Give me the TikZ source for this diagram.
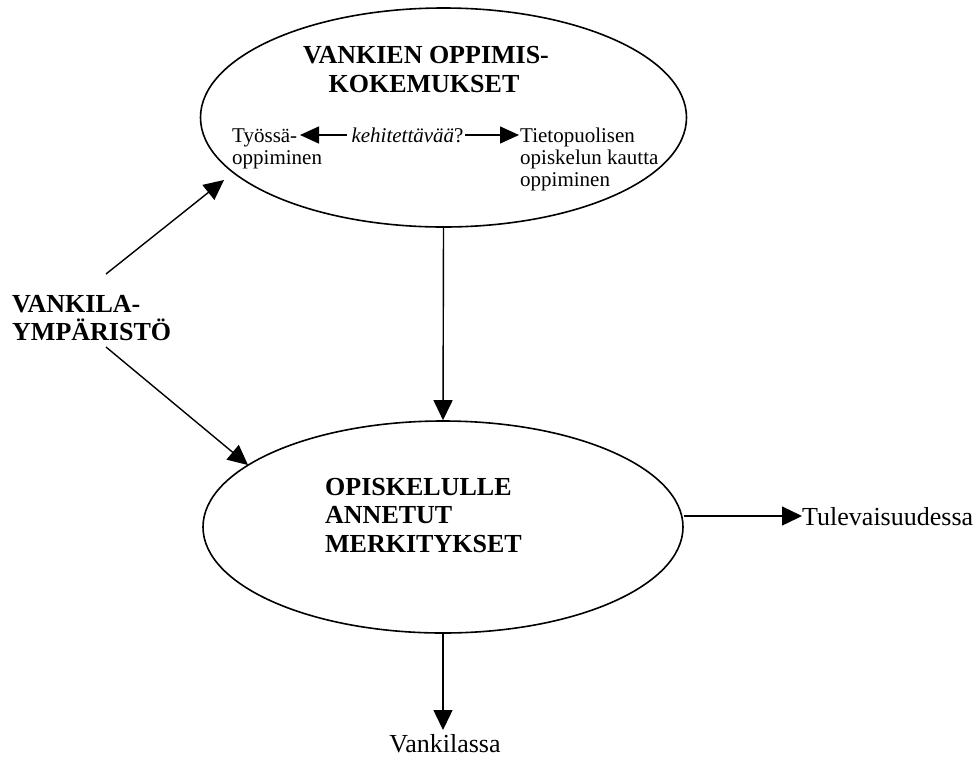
\documentclass[tikz,border=0pt]{standalone}
\usepackage{fontspec}
\setmainfont{Liberation Serif}
\usetikzlibrary{shapes.geometric,arrows.meta}
\begin{document}
\begin{tikzpicture}[x=1pt,y=-1pt,
  oval/.style={draw,ellipse,line width=1.6pt,inner sep=0pt},
  big/.style={font=\fontsize{26}{29}\selectfont\bfseries,inner sep=0pt},
  plain/.style={font=\fontsize{26}{29}\selectfont,inner sep=0pt},
  small/.style={font=\fontsize{21}{23}\selectfont,inner sep=0pt},
  arr/.style={line width=1.4pt,-{Triangle[length=20pt,width=19pt]}},
  sarr/.style={line width=1.4pt,-{Triangle[length=19pt,width=17pt]}}]
\useasboundingbox (0,0) rectangle (977,756);
% ellipses
\node[oval,minimum width=486pt,minimum height=219pt] (topE) at (443.5,117.5) {};
\node[oval,minimum width=480pt,minimum height=212pt] (botE) at (443,527) {};
% top ellipse texts
\node[big,anchor=base] (t1) at (426,63) {VANKIEN OPPIMIS-};
\node[big,anchor=base] (t2) at (424,92) {KOKEMUKSET};
\node[small,anchor=base west] (w1) at (232,142) {Työssä-};
\node[small,anchor=base west] (w2) at (232,164) {oppiminen};
\node[small,anchor=base] (keh) at (407.5,142) {\textit{kehitettävää}?};
\node[small,anchor=base west] (p1) at (520,142) {Tietopuolisen};
\node[small,anchor=base west] (p2) at (520,164) {opiskelun kautta};
\node[small,anchor=base west] (p3) at (520,186) {oppiminen};
\coordinate (kl) at (347,135);
\coordinate (klt) at (300,135);
\coordinate (kr) at (465,135);
\coordinate (krt) at (519,135);
\draw[sarr] (kl) -- (klt);
\draw[sarr] (kr) -- (krt);
% bottom ellipse texts
\node[big,anchor=base west] (b1) at (325,495) {OPISKELULLE};
\node[big,anchor=base west] (b2) at (325,523) {ANNETUT};
\node[big,anchor=base west] (b3) at (325,552) {MERKITYKSET};
% environment
\node[big,anchor=base west] (v1) at (12,312) {VANKILA-};
\node[big,anchor=base west] (v2) at (12,340) {YMPÄRISTÖ};
\coordinate (vu) at (106,274);
\coordinate (vut) at (224,180);
\coordinate (vl) at (106,347);
\coordinate (vlt) at (248,465);
\draw[arr] (vu) -- (vut);
\draw[arr] (vl) -- (vlt);
% outcomes
\node[plain,anchor=base west] (tul) at (802,525) {Tulevaisuudessa};
\node[plain,anchor=base] (vank) at (445,752) {Vankilassa};
\coordinate (tulp) at (802,516);
\coordinate (vankp) at (443,730);
\draw[arr] (topE.south) -- (botE.north);
\draw[arr] (botE.east |- tulp) -- (tulp);
\draw[arr] (botE.south) -- (vankp);
\end{tikzpicture}
\end{document}
